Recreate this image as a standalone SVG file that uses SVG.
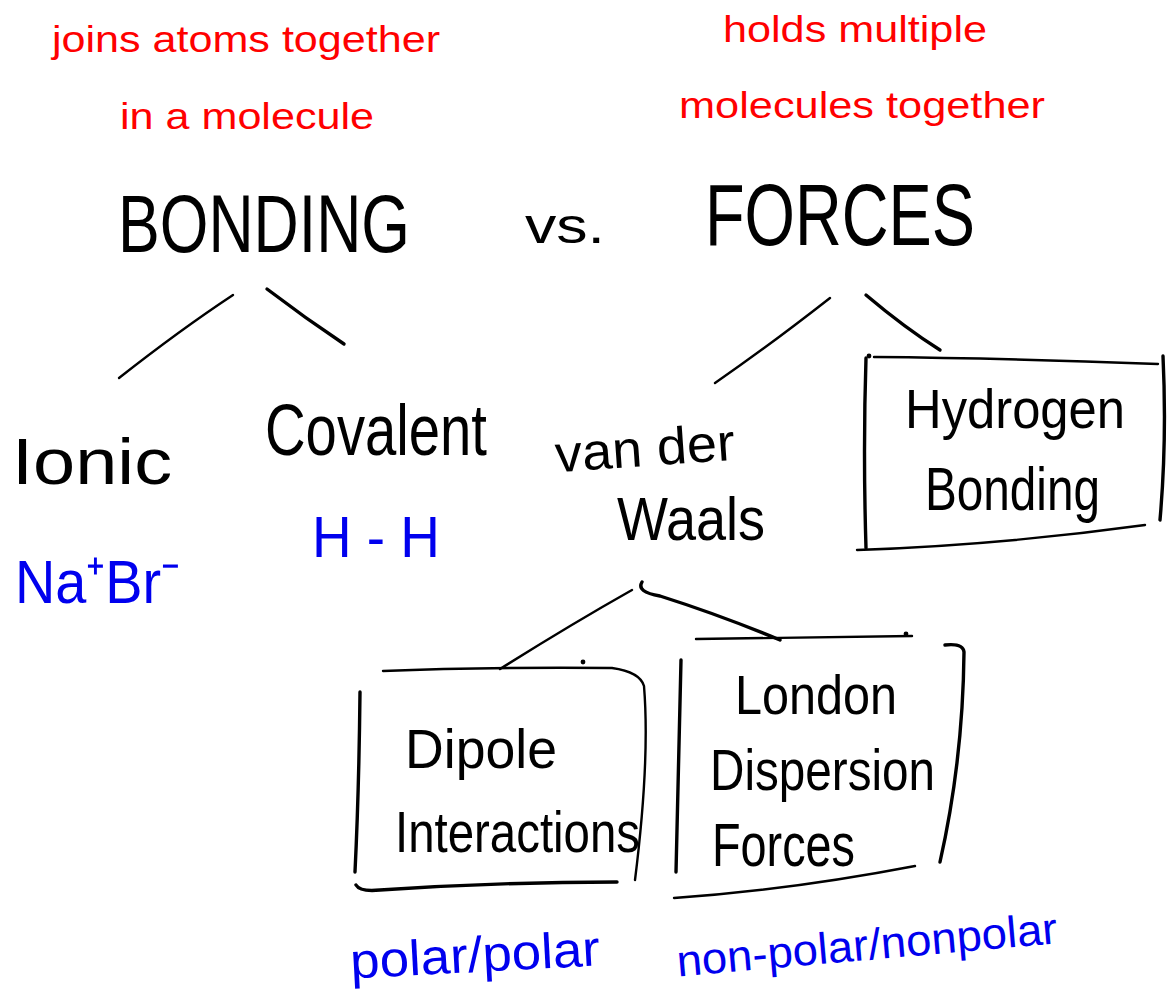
<svg xmlns="http://www.w3.org/2000/svg" width="1175" height="990" viewBox="0 0 1175 990">
<style>
.red{font-family:"Liberation Sans",Arial,sans-serif;font-size:36px;fill:#ff0000;text-anchor:middle}
.hw{font-family:"Liberation Sans",Arial,sans-serif;fill:#000}
.bl{font-family:"Liberation Sans",Arial,sans-serif;fill:#0000ee}
.ln{fill:none;stroke:#000;stroke-width:3.4;stroke-linecap:round;stroke-linejoin:round}
.thin{stroke-width:2.4}
</style>
<rect width="1175" height="990" fill="#fff"/>
<g id="note-bonding">
<text class="red" x="246" y="52" textLength="388" lengthAdjust="spacingAndGlyphs">joins atoms together</text>
<text class="red" x="247" y="129" textLength="254" lengthAdjust="spacingAndGlyphs">in a molecule</text>
</g>
<g id="note-forces">
<text class="red" x="855" y="42" textLength="264" lengthAdjust="spacingAndGlyphs">holds multiple</text>
<text class="red" x="862" y="118" textLength="366" lengthAdjust="spacingAndGlyphs">molecules together</text>
</g>
<g id="bonding">
<text class="hw" x="118" y="252" font-size="82" textLength="292" lengthAdjust="spacingAndGlyphs">BONDING</text>
</g>
<g id="vs">
<text class="hw" x="525" y="243" font-size="50" textLength="80" lengthAdjust="spacingAndGlyphs">vs.</text>
</g>
<g id="forces">
<text class="hw" x="705" y="245" font-size="88" textLength="270" lengthAdjust="spacingAndGlyphs">FORCES</text>
</g>
<g id="ionic">
<text class="hw" x="12" y="484" font-size="64" textLength="160" lengthAdjust="spacingAndGlyphs">Ionic</text>
<text class="bl" x="15" y="603" font-size="62" textLength="165" lengthAdjust="spacingAndGlyphs">Na⁺Br⁻</text>
</g>
<g id="covalent">
<text class="hw" x="265" y="455" font-size="72" textLength="222" lengthAdjust="spacingAndGlyphs">Covalent</text>
<text class="bl" x="312" y="557" font-size="58" textLength="128" lengthAdjust="spacingAndGlyphs">H - H</text>
</g>
<g id="vanderwaals">
<text class="hw" x="555" y="466" font-size="52" textLength="180" lengthAdjust="spacingAndGlyphs" transform="rotate(-4 645 450)">van der</text>
<text class="hw" x="617" y="540" font-size="62" textLength="148" lengthAdjust="spacingAndGlyphs">Waals</text>
</g>
<g id="hydrogen">
<path class="ln" d="M866 358 Q863 450 866 548"/>
<path class="ln thin" d="M874 357 Q1000 358 1158 364"/>
<circle cx="869" cy="356" r="2.4"/>
<path class="ln" d="M1163 356 Q1167 440 1160 520"/>
<path class="ln thin" d="M857 550 Q1000 545 1145 525"/>
<text class="hw" x="905" y="428" font-size="56" textLength="220" lengthAdjust="spacingAndGlyphs">Hydrogen</text>
<text class="hw" x="925" y="510" font-size="62" textLength="175" lengthAdjust="spacingAndGlyphs">Bonding</text>
</g>
<g id="dipole">
<path class="ln thin" d="M383 671 Q480 667 612 668 Q640 672 644 686 Q650 760 635 880"/>
<circle cx="583" cy="662" r="2.4"/>
<path class="ln" d="M360 692 Q359 790 355 872"/>
<path class="ln" d="M356 885 Q360 892 380 890 Q500 882 617 882"/>
<text class="hw" x="405" y="768" font-size="56" textLength="152" lengthAdjust="spacingAndGlyphs">Dipole</text>
<text class="hw" x="395" y="852" font-size="58" textLength="245" lengthAdjust="spacingAndGlyphs">Interactions</text>
<text class="bl" x="350" y="972" font-size="50" textLength="250" lengthAdjust="spacingAndGlyphs" transform="rotate(-3 475 955)">polar/polar</text>
</g>
<g id="london">
<path class="ln thin" d="M696 639 Q800 638 912 636"/>
<circle cx="906" cy="634" r="2.4"/>
<path class="ln" d="M681 660 Q678 770 676 872"/>
<path class="ln" d="M945 645 Q963 643 964 652 Q963 760 940 862"/>
<path class="ln thin" d="M674 898 Q790 890 915 866"/>
<text class="hw" x="735" y="714" font-size="56" textLength="162" lengthAdjust="spacingAndGlyphs">London</text>
<text class="hw" x="710" y="790" font-size="58" textLength="225" lengthAdjust="spacingAndGlyphs">Dispersion</text>
<text class="hw" x="712" y="866" font-size="62" textLength="143" lengthAdjust="spacingAndGlyphs">Forces</text>
<text class="bl" x="675" y="960" font-size="44" textLength="382" lengthAdjust="spacingAndGlyphs" transform="rotate(-5 865 935)">non-polar/nonpolar</text>
</g>
<g id="connectors">
<path class="ln thin" d="M233 295 Q180 330 119 378"/>
<path class="ln" d="M267 289 Q305 318 344 344"/>
<path class="ln thin" d="M830 298 Q770 345 715 383"/>
<path class="ln" d="M866 295 Q905 328 940 350"/>
<path class="ln thin" d="M632 590 Q570 625 500 669"/>
<path class="ln" d="M642 582 Q636 592 660 596 Q720 615 780 640"/>
</g>
</svg>
